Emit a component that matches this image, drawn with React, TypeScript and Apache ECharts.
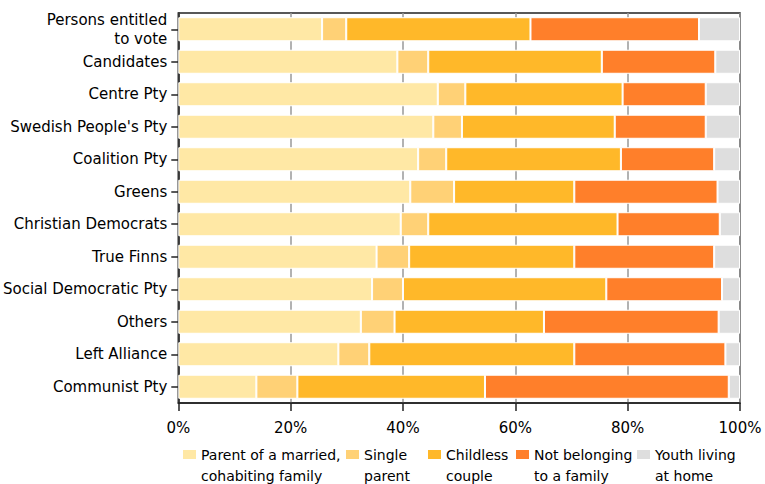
import React, { useEffect, useRef } from "react";
import * as echarts from "echarts";

const categories = [
  "Persons entitled\nto vote",
  "Candidates",
  "Centre Pty",
  "Swedish People's Pty",
  "Coalition Pty",
  "Greens",
  "Christian Democrats",
  "True Finns",
  "Social Democratic Pty",
  "Others",
  "Left Alliance",
  "Communist Pty",
];

const seriesNames = [
  "Parent of a married,\ncohabiting family",
  "Single\nparent",
  "Childless\ncouple",
  "Not belonging\nto a family",
  "Youth living\nat home",
];

const parentFamily = [25.6, 39.0, 46.2, 45.4, 42.7, 41.3, 39.6, 35.3, 34.5, 32.5, 28.5, 13.9];
const singleParent = [4.3, 5.5, 4.9, 5.1, 5.0, 7.8, 4.9, 5.8, 5.5, 6.0, 5.5, 7.3];
const childlessCouple = [32.8, 30.9, 28.0, 27.2, 31.1, 21.4, 33.7, 29.4, 36.2, 26.6, 36.5, 33.4];
const notInFamily = [30.0, 20.2, 14.8, 16.2, 16.6, 25.5, 18.2, 24.9, 20.6, 31.1, 26.9, 43.4];
const youthAtHome = [7.3, 4.4, 6.1, 6.1, 4.6, 4.0, 3.6, 4.6, 3.2, 3.8, 2.6, 2.0];

const seriesValues = [parentFamily, singleParent, childlessCouple, notInFamily, youthAtHome];
const colors = ["#FFE8A5", "#FFD176", "#FFB829", "#FF7F2A", "#DEDEDE"];
const legendLefts = [183, 346, 428, 516, 637];

const FONT = "DejaVu Sans";

export default function App() {
  const ref = useRef<HTMLDivElement>(null);
  useEffect(() => {
    if (!ref.current) return;
    const chart = echarts.init(ref.current, null, { renderer: "svg" });
    chart.setOption({
      animation: false,
      backgroundColor: "#fff",
      textStyle: { fontFamily: FONT },
      grid: {
        left: 177,
        right: 25,
        top: 13,
        bottom: 81,
        show: true,
        borderColor: "#222",
        borderWidth: 1.5,
        backgroundColor: "transparent",
      },
      legend: seriesNames.map((n, i) => ({
        data: [n],
        left: legendLefts[i],
        top: 423,
        padding: 0,
        itemWidth: 13,
        itemHeight: 9,
        icon: "rect",
        itemStyle: { borderWidth: 0 },
        selectedMode: false,
        formatter: (name: string) => "\n" + name,
        textStyle: {
          fontFamily: FONT,
          fontSize: 14,
          lineHeight: 21,
          color: "#000",
        },
      })),
      xAxis: {
        type: "value",
        min: 0,
        max: 100,
        interval: 20,
        axisLine: { show: true, lineStyle: { color: "#222", width: 1.5 } },
        axisTick: { show: true, length: 8, lineStyle: { color: "#222", width: 1.5 } },
        axisLabel: {
          formatter: "{value}%",
          fontFamily: FONT,
          fontSize: 15,
          color: "#000",
          margin: 17,
        },
        splitLine: { show: true, lineStyle: { color: "#999", width: 1.5 } },
      },
      yAxis: {
        type: "category",
        data: categories,
        inverse: true,
        axisLine: { show: true, lineStyle: { color: "#222", width: 1.5 } },
        axisTick: {
          show: true,
          alignWithLabel: true,
          length: 7,
          lineStyle: { color: "#222", width: 1.5 },
        },
        axisLabel: {
          fontFamily: FONT,
          fontSize: 15,
          lineHeight: 19,
          color: "#000",
          margin: 11,
        },
      },
      series: seriesNames.map((n, i) => ({
        name: n,
        type: "bar",
        stack: "total",
        barCategoryGap: "26%",
        data: seriesValues[i],
        itemStyle: { color: colors[i], borderColor: "#fff", borderWidth: 1 },
      })),
    });
    return () => chart.dispose();
  }, []);
  return (
    <div
      ref={ref}
      style={{ position: "fixed", left: 0, top: 0, width: 765, height: 484 }}
    />
  );
}
